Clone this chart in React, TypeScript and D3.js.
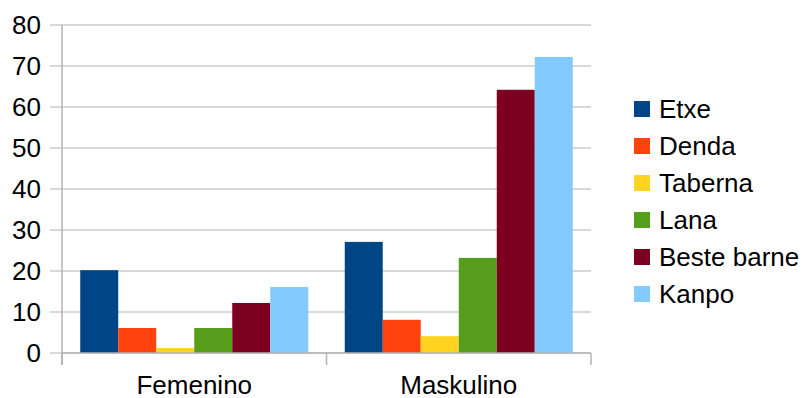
import React from "react";
import * as d3 from "d3";

const categories = ["Femenino", "Maskulino"];
const seriesNames = ["Etxe", "Denda", "Taberna", "Lana", "Beste barne", "Kanpo"];
const seriesColors = ["#004586", "#ff420e", "#ffd320", "#579d1c", "#7e0021", "#83caff"];
const femeninoValues = [20.2, 6.1, 1.2, 6.1, 12.2, 16.1];
const maskulinoValues = [27.1, 8.1, 4.1, 23.2, 64.2, 72.2];
const yTicks = [0, 10, 20, 30, 40, 50, 60, 70, 80];

const W = 805;
const H = 398;
const left = 62;
const right = 591;
const top = 25;
const bottom = 353;
const FONT = "'Liberation Sans', Arial, sans-serif";
const GRID = "#b3b3b3";
const FS = 26;

export default function App() {
  const values = [femeninoValues, maskulinoValues];
  const y = d3.scaleLinear().domain([0, 80]).range([bottom, top]);
  const x0 = d3.scaleBand<string>().domain(categories).range([left, right]).padding(0);
  const x1 = d3
    .scaleBand<string>()
    .domain(seriesNames)
    .range([0, x0.bandwidth()])
    .paddingInner(0)
    .paddingOuter(0.48);
  const catTicks = [left, ...categories.map((c) => (x0(c) as number) + x0.bandwidth())];

  return (
    <svg
      width={W}
      height={H}
      style={{ position: "absolute", left: 0, top: 0, background: "#fff" }}
      fontFamily={FONT}
    >
      <rect x={0} y={0} width={W} height={H} fill="#fff" />
      {yTicks.map((t) => (
        <g key={t}>
          <line x1={50} x2={right} y1={y(t)} y2={y(t)} stroke={GRID} strokeWidth={1} />
          <text x={41} y={y(t)} dy="0.35em" textAnchor="end" fontSize={FS} fill="#000">
            {t}
          </text>
        </g>
      ))}
      {categories.map((c, ci) =>
        seriesNames.map((s, si) => {
          const v = values[ci][si];
          return (
            <rect
              key={c + s}
              x={(x0(c) as number) + (x1(s) as number)}
              y={y(v)}
              width={x1.bandwidth()}
              height={y(0) - y(v)}
              fill={seriesColors[si]}
            />
          );
        })
      )}
      <line x1={left} x2={left} y1={top} y2={365} stroke={GRID} strokeWidth={1.5} />
      <line x1={left} x2={right} y1={bottom} y2={bottom} stroke={GRID} strokeWidth={1.5} />
      {catTicks.map((tx, i) => (
        <line key={i} x1={tx} x2={tx} y1={bottom} y2={365} stroke={GRID} strokeWidth={1.5} />
      ))}
      {categories.map((c) => (
        <text
          key={c}
          x={(x0(c) as number) + x0.bandwidth() / 2}
          y={393.5}
          textAnchor="middle"
          fontSize={FS}
          fill="#000"
        >
          {c}
        </text>
      ))}
      {seriesNames.map((s, i) => {
        const cy = 109 + i * 37;
        return (
          <g key={s}>
            <rect x={634} y={cy - 8} width={16} height={16} fill={seriesColors[i]} />
            <text x={659} y={cy} dy="0.35em" fontSize={FS} fill="#000">
              {s}
            </text>
          </g>
        );
      })}
    </svg>
  );
}
